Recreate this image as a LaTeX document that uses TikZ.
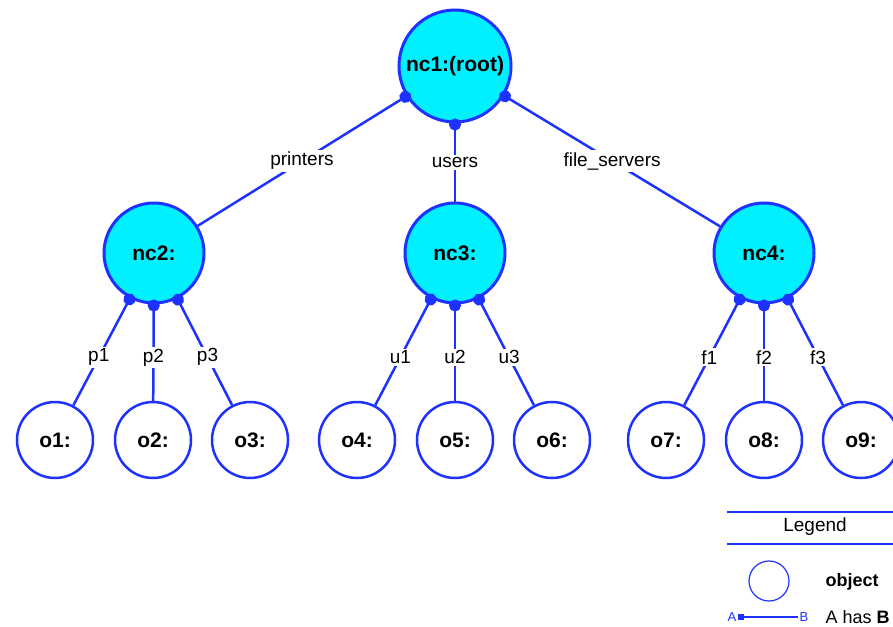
\documentclass[tikz,border=0pt]{standalone}
\usepackage{fontspec}
\setmainfont{Liberation Sans}
\usetikzlibrary{arrows.meta}
\definecolor{nsblue}{RGB}{30,50,255}
\definecolor{nscyan}{RGB}{0,240,255}

\begin{document}
\begin{tikzpicture}[x=1pt,y=-1pt,
  obj/.style={circle,draw=nsblue,line width=2.5pt,inner sep=0pt,
    font=\bfseries\fontsize{21}{23}\selectfont},
  ctx/.style={obj,fill=nscyan,line width=3pt},
  has/.style={draw=nsblue,line width=2.5pt,shorten >=-5pt,-{Circle[length=12pt,width=12pt]}},
  lbl/.style={fill=white,inner sep=2pt,font=\fontsize{19}{21}\selectfont}]
  \useasboundingbox (0,0) rectangle (893,626);
  % naming contexts
  \node[ctx,minimum size=112pt] (nc1) at (455,66) {nc1:(root)};
  \node[ctx,minimum size=100pt] (nc2) at (154,253) {nc2:};
  \node[ctx,minimum size=100pt] (nc3) at (455,253) {nc3:};
  \node[ctx,minimum size=100pt] (nc4) at (764,253) {nc4:};
  % objects
  \foreach \i/\x in {1/55,2/153,3/250,4/357,5/455,6/552,7/666,8/764,9/861}
    \node[obj,minimum size=76pt] (o\i) at (\x,440) {o\i:};
  % bindings
  \draw[has] (nc2) -- node[lbl] {printers} (nc1);
  \draw[has] (nc3) -- node[lbl] {users} (nc1);
  \draw[has] (nc4) -- node[lbl] {file\_servers} (nc1);
  \foreach \i/\ctx/\name in {1/nc2/p1,2/nc2/p2,3/nc2/p3,4/nc3/u1,5/nc3/u2,6/nc3/u3,7/nc4/f1,8/nc4/f2,9/nc4/f3}
    \draw[has] (o\i) -- node[lbl,pos=0.45] {\name} (\ctx);
  % legend
  \draw[nsblue,line width=1.5pt] (727,512) -- (893,512);
  \node[font=\fontsize{19}{21}\selectfont] (legend) at (815,527) {Legend};
  \draw[nsblue,line width=1.5pt] (727,544) -- (893,544);
  \node[circle,draw=nsblue,line width=1.2pt,minimum size=40pt] (keyobj) at (769,581) {};
  \node[anchor=west,font=\bfseries\fontsize{18}{20}\selectfont] (keyobjtxt) at (822,582) {object};
  \node[text=nsblue,inner sep=1pt,font=\fontsize{13}{14}\selectfont] (keya) at (732,617) {A};
  \node[text=nsblue,inner sep=1pt,font=\fontsize{13}{14}\selectfont] (keyb) at (804,617) {B};
  \draw[nsblue,line width=1.5pt,{Square[length=6pt,width=6pt]}-] (keya) -- (keyb);
  \node[anchor=west,font=\fontsize{18}{20}\selectfont] (keyhas) at (822,617) {A has \textbf{B}};
\end{tikzpicture}
\end{document}
